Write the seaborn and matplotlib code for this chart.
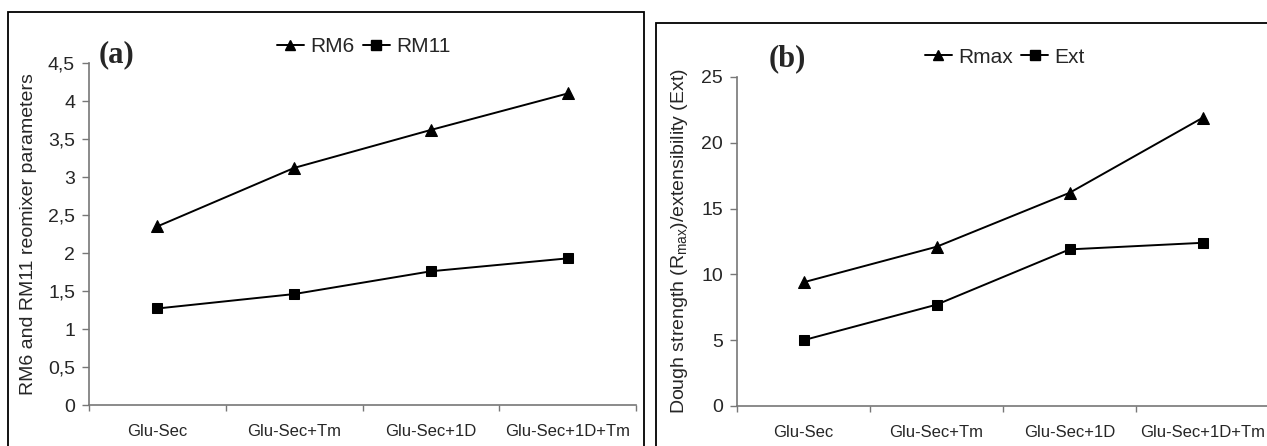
import numpy as np
import pandas as pd
import matplotlib
matplotlib.use('Agg')
import matplotlib.pyplot as plt
import seaborn as sns
from matplotlib.lines import Line2D
from matplotlib.patches import Rectangle
from matplotlib.ticker import FuncFormatter, FixedLocator

# ── Data ───────────────────────────────────────────────────────────────────────
categories = ['Glu-Sec', 'Glu-Sec+Tm', 'Glu-Sec+1D', 'Glu-Sec+1D+Tm']
rm6 = [2.35, 3.12, 3.62, 4.10]
rm11 = [1.27, 1.46, 1.76, 1.93]
rmax = [9.4, 12.1, 16.2, 21.9]
ext = [5.0, 7.7, 11.9, 12.4]

sns.set_theme(style='white')
plt.rcParams['font.family'] = ['Liberation Sans', 'DejaVu Sans']
plt.rcParams['mathtext.fontset'] = 'custom'
plt.rcParams['mathtext.rm'] = 'Liberation Sans'

fig = plt.figure(figsize=(12.67, 4.46), dpi=100)
ax_a = fig.add_axes([0.0702, 0.0919, 0.432, 0.7668])
ax_b = fig.add_axes([0.5817, 0.0897, 0.420, 0.7377])

# outer frames around each panel
fig.patches.append(Rectangle((0.0063, -0.05), 0.502, 1.023, transform=fig.transFigure,
                             fill=False, edgecolor='black', linewidth=1.3, clip_on=False))
fig.patches.append(Rectangle((0.5178, -0.05), 0.6, 0.998, transform=fig.transFigure,
                             fill=False, edgecolor='black', linewidth=1.3, clip_on=False))


def draw_panel(ax, series, ymax, ystep, comma):
    pos = np.arange(len(categories))
    for vals, mk, ms in zip(series, ['^', 's'], [8, 7]):
        df = pd.DataFrame({'x': pos, 'y': vals})
        sns.lineplot(data=df, x='x', y='y', ax=ax, color='black', linewidth=1.4,
                     marker=mk, markersize=ms, markeredgecolor='black')
    ax.set_xlim(-0.5, len(categories) - 0.5)
    ax.set_ylim(0, ymax)
    ax.set_yticks(np.arange(0, ymax + 1e-9, ystep))
    if comma:
        ax.yaxis.set_major_formatter(FuncFormatter(
            lambda v, p: f'{v:g}'.replace('.', ',')))
    ax.xaxis.set_major_locator(FixedLocator(np.arange(-0.5, len(categories), 1.0)))
    ax.xaxis.set_major_formatter(FuncFormatter(lambda v, p: ''))
    ax.xaxis.set_minor_locator(FixedLocator(pos))
    ax.set_xticklabels(categories, minor=True)
    ax.tick_params(axis='x', which='major', direction='out', length=4, width=1,
                   color='#777777', bottom=True)
    ax.tick_params(axis='x', which='minor', length=0, labelsize=12, pad=14)
    ax.tick_params(axis='y', direction='out', length=5, width=1, color='#777777',
                   left=True, labelsize=14, pad=5)
    for s in ['top', 'right']:
        ax.spines[s].set_visible(False)
    for s in ['left', 'bottom']:
        ax.spines[s].set_color('#777777')
        ax.spines[s].set_linewidth(1.2)
    ax.set_xlabel('')
    ax.grid(False)


draw_panel(ax_a, [rm6, rm11], 4.5, 0.5, True)
draw_panel(ax_b, [rmax, ext], 25, 5, False)

ax_a.set_ylabel('RM6 and RM11 reomixer parameters', fontsize=14, labelpad=8)
ax_b.set_ylabel(r'Dough strength (R$_{\mathrm{max}}$)/extensibility (Ext)', fontsize=14, labelpad=8)


def make_legend(labels, loc):
    handles = [Line2D([], [], color='black', linewidth=1.4, marker=m, markersize=7)
               for m in ['^', 's']]
    fig.legend(handles, labels, loc='center', bbox_to_anchor=loc, ncol=2, frameon=False,
               fontsize=15, handlelength=1.3, handletextpad=0.3, columnspacing=0.4,
               borderpad=0)


make_legend(['RM6', 'RM11'], (0.287, 0.895))
make_legend(['Rmax', 'Ext'], (0.793, 0.872))

fig.text(0.0775, 0.877, '(a)', fontsize=22, fontweight='bold', family='Liberation Serif',
         va='center', ha='left')
fig.text(0.607, 0.868, '(b)', fontsize=22, fontweight='bold', family='Liberation Serif',
         va='center', ha='left')

fig.savefig('out.png', dpi=100)
